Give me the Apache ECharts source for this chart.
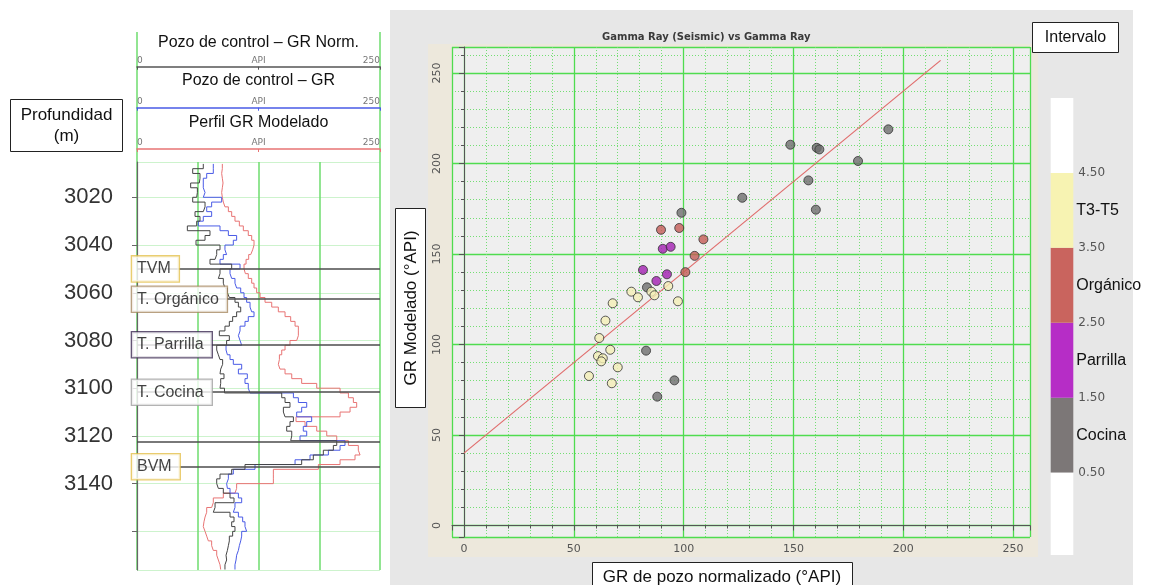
<!DOCTYPE html>
<html>
<head>
<meta charset="utf-8">
<script src="https://cdn.jsdelivr.net/npm/echarts@6/dist/echarts.min.js"></script>
<style>
  html, body { margin: 0; padding: 0; background: #ffffff; }
  #main { width: 1152px; height: 585px; }
</style>
</head>
<body>
<div id="main"></div>
<script>
// ---------------- Well log (depth in m, GR in API) ----------------
const depthTop = 3006;   // top of the first 2 m sample
const depthStep = 2;
const grNorm = [
  68.2, 57.3, 64.8, 64.1, 55.2, 62.1, 61.4, 57.3, 70, 68.2, 59.7, 64.8, 61.4, 51.8,
  75.1, 70, 60.7, 85.4, 82, 80.3, 75.1, 97.4, 85.4, 83.7, 88.8, 90.5, 93, 95,
  100.8, 104.3, 106.7, 102.5, 98.4, 95, 90.5, 84.7, 95, 92.2, 82, 83.7, 85.4, 88.1,
  86.1, 85.4, 89.5, 86.1, 85.4, 90, 148.9, 152.3, 157.4, 150.6, 152.3, 160.9, 157.4,
  154, 159.2,
  158.1, 205.5, 202, 191.7, 181.4, 169.4, 111.1, 97.4, 85.4, 82, 83.7, 88.8, 95.7,
  99.8, 80.3, 78.5, 95.7, 99.8, 97.4, 100.8, 98.4, 95, 94, 93, 91.6, 92.2, 90.5, 90.5
];
const grWell = [
  78.5, 78.5, 71.7, 68.2, 68.2, 70, 68.2, 87.1, 76.8, 71.7, 76.8, 68.2, 63.1, 85.4,
  94, 102.5, 99.1, 90.5, 92.2, 88.8, 85.4, 106, 95.7, 97.4, 100.8, 102.5, 106.7, 110.1,
  112.8, 116.3, 118, 120.4, 114.5, 111.1, 106, 104.3, 106, 107.7, 91.6, 93, 95.7, 99.1,
  107.7, 104.3, 113.5, 111.1, 114.5, 116.3, 160.9, 166, 174.6, 169.4, 164.3, 179.7,
  174.6, 171.1, 174.6,
  167.7, 214, 208.9, 196.9, 178, 162.6, 121.4, 99.1, 94, 92.2, 93, 95.7, 104.3, 107.7,
  100.8, 99.1, 104.3, 108.7, 111.1, 112.8, 107.7, 106.7, 105.3, 104.3, 102.5, 101.9,
  100.8, 100.8
];
const grModel = [
  87.8, 87.1, 87.8, 88.5, 87.8, 87.1, 87.8, 88.8, 90.5, 94, 97.4, 100.8, 105.3, 109.4,
  114.5, 118, 120.4, 119, 117, 114.9, 112.2, 110.1, 111.5, 114.5, 118, 120.4, 123.1, 126.6,
  131.7, 138.6, 145.4, 152.3, 158.1, 162.6, 166, 166, 164.3, 157.4, 152.3, 148.9, 146.5,
  145.4, 147.1, 152.3, 159.2, 169.4, 184.9, 208.9, 217.5, 222.6, 226, 219.2, 208.9,
  163.6, 172.9, 184.9, 195.2,
  205.5, 217.5, 227.7, 229.5, 224.3, 208.9, 186.6, 140.3, 140.3, 140.3, 102.5, 100.8,
  88.8, 78.5, 76.8, 71.7, 70, 68.9, 68.2, 70, 71.7, 73.4, 76.8, 78.5, 82, 83.7, 85.4, 86.1
];
const depthMin = 3005.2;
const depthMax = 3176.2;
const topNames  = ['TVM', 'T. Orgánico', 'T. Parrilla', 'T. Cocina', '', 'BVM'];
const topDepths = [3050, 3062.7, 3081.8, 3101.7, 3122.6, 3132.9];

// ---------------- Cross-plot (normalised well GR vs modelled GR) ----------------
const cocinaX   = [99, 83.3, 82.9, 95.8, 88, 148.6, 160.6, 161.8, 193.2, 179.4, 156.8, 126.7, 160.2];
const cocinaY   = [172.8, 131.6, 96.6, 80.2, 71.2, 210.4, 208.7, 207.8, 218.9, 201.4, 190.7, 181.1, 174.5];
const parrillaX = [90.5, 94.1, 81.5, 92.4, 87.6];
const parrillaY = [152.9, 154, 141.2, 138.8, 135.1];
const organicoX = [89.7, 98, 109, 105, 100.8];
const organicoY = [163.4, 164.4, 158.1, 149, 140];
const t3t5X = [93, 76.2, 85.3, 79.2, 86.7, 97.4, 67.7, 64.4, 61.6, 66.6, 61, 63.2, 62.5, 70, 56.9, 67.3];
const t3t5Y = [132.3, 129.2, 129.2, 126.1, 127.2, 123.9, 122.8, 113.2, 103.6, 97.1, 93.6, 92.4, 90.7, 87.4, 82.6, 78.6];
const fitX = [0, 217];
const fitY = [40, 257];

// ---------------- Interval colour scale ----------------
const intervalNames = ['Cocina', 'Parrilla', 'Orgánico', 'T3-T5'];   // codes 1..4
const intervalCodes = [1, 2, 3, 4];
const bandEdges = [-0.6, 0.5, 1.5, 2.5, 3.5, 4.5, 5.5];
const bandTicks = [0.5, 1.5, 2.5, 3.5, 4.5];

// ---------------- styles ----------------
const UI_FONT = '"Liberation Sans", Arial, sans-serif';
const PLOT_FONT = '"DejaVu Sans", sans-serif';
const bandColors = ['#ffffff', '#7c7777', '#b62dc6', '#c9645e', '#f7f3b2', '#ffffff'];
const pointColors = ['#6e6e6e', '#a21fb2', '#c45b56', '#f4efb6'];
const topBoxColors = ['#e3c24e', '#a88a62', '#3c2a52', '#a0a0a0', '#a0a0a0', '#e3bf4a'];
const majorGreen = '#4fdc4f';
const minorGreen = '#74de74';

function stepCurve(values) {
  const pts = [];
  values.forEach((v, i) => {
    const d0 = depthTop + i * depthStep;
    pts.push([v, d0], [v, d0 + depthStep]);
  });
  return pts;
}
function zip(xs, ys) { return xs.map((x, i) => [x, ys[i]]); }

function headerAxis(color, offset) {
  return {
    gridIndex: 0, type: 'value', position: 'bottom', offset,
    min: 0, max: 250, interval: 125,
    axisLine: { show: true, lineStyle: { color, width: 1.5 } },
    axisTick: { show: true, length: 3, lineStyle: { color } },
    axisLabel: {
      show: true, inside: true, margin: 2, fontSize: 9, color: '#777', fontFamily: PLOT_FONT,
      alignMinLabel: 'left', alignMaxLabel: 'right',
      formatter: v => (v === 125 ? 'API' : String(v))
    },
    splitLine: { show: false }
  };
}

const chart = echarts.init(document.getElementById('main'), null, { renderer: 'canvas' });

const scatterSets = [
  [cocinaX, cocinaY], [parrillaX, parrillaY], [organicoX, organicoY], [t3t5X, t3t5Y]
];

const option = {
  animation: false,
  backgroundColor: '#ffffff',
  grid: [
    { left: 137, top: 32, width: 243, height: 130 },                  // log header
    { left: 137, top: 162, width: 243, height: 408 },                 // log track
    { left: 452, top: 47, width: 578, height: 490, show: true,
      backgroundColor: '#efefef', borderWidth: 0 },                   // cross-plot
    { left: 1050.7, top: 98, width: 22.6, height: 457 }               // colour scale
  ],
  xAxis: [
    { gridIndex: 0, type: 'value', position: 'top', min: 0, max: 250, interval: 250,
      axisLine: { show: false }, axisTick: { show: false }, axisLabel: { show: false },
      splitLine: { show: true, lineStyle: { color: '#6edc6e', width: 1.5 } } },
    headerAxis('#555555', -95.3),
    headerAxis('#4a5be6', -54.3),
    headerAxis('#e87474', -13),
    { gridIndex: 1, type: 'value', min: 0, max: 250, interval: 62.5,
      axisLine: { show: false }, axisTick: { show: false }, axisLabel: { show: false },
      splitLine: { show: true, lineStyle: { color: '#6edc6e', width: 1.5 } } },
    { gridIndex: 2, type: 'value', min: -5.46, max: 257.7,
      axisLine: { show: true, lineStyle: { color: '#555', width: 1 } },
      axisTick: { show: true, length: 5, lineStyle: { color: '#555' } },
      minorTick: { show: true, splitNumber: 5, length: 3, lineStyle: { color: '#555' } },
      axisLabel: { fontSize: 11, color: '#555', fontFamily: PLOT_FONT, margin: 7,
                   showMinLabel: false, showMaxLabel: false },
      splitLine: { show: true, lineStyle: { color: majorGreen, width: 1.3 } },
      minorSplitLine: { show: true, lineStyle: { color: minorGreen, width: 1, type: [1, 2] } } },
    { gridIndex: 3, type: 'value', min: 0, max: 1, show: false }
  ],
  yAxis: [
    { gridIndex: 0, type: 'value', min: 0, max: 1, show: false },
    { gridIndex: 1, type: 'value', inverse: true, min: depthMin, max: depthMax, splitNumber: 8,
      position: 'left', offset: 10,
      axisLine: { show: true, lineStyle: { color: '#666', width: 1.2 } },
      axisTick: { show: true, length: 5, lineStyle: { color: '#666' } },
      axisLabel: { fontSize: 22, color: '#333', fontFamily: UI_FONT, margin: 14,
                   showMinLabel: false, showMaxLabel: false,
                   formatter: v => (v <= 3140 ? String(v) : '') },
      splitLine: { show: true, lineStyle: { color: '#cdf3cd', width: 1 } } },
    { gridIndex: 2, type: 'value', min: -6.35, max: 264.4,
      axisLine: { show: true, lineStyle: { color: '#555', width: 1 } },
      axisTick: { show: true, length: 5, lineStyle: { color: '#555' } },
      minorTick: { show: true, splitNumber: 5, length: 3, lineStyle: { color: '#555' } },
      axisLabel: { fontSize: 11, color: '#555', fontFamily: PLOT_FONT, margin: 9, rotate: 90,
                   showMinLabel: false, showMaxLabel: false },
      splitLine: { show: true, lineStyle: { color: majorGreen, width: 1.3 } },
      minorSplitLine: { show: true, lineStyle: { color: minorGreen, width: 1, type: [1, 2] } } },
    { gridIndex: 3, type: 'value', position: 'right', min: bandEdges[0], max: bandEdges[bandEdges.length - 1],
      axisLine: { show: false }, axisTick: { show: false }, splitLine: { show: false },
      axisLabel: { customValues: bandTicks, formatter: v => v.toFixed(2), margin: 5,
                   fontSize: 12, color: '#555', fontFamily: PLOT_FONT } },
    { gridIndex: 3, type: 'value', position: 'right', min: bandEdges[0], max: bandEdges[bandEdges.length - 1],
      axisLine: { show: false }, axisTick: { show: false }, splitLine: { show: false },
      axisLabel: { customValues: intervalCodes, formatter: v => intervalNames[intervalCodes.indexOf(v)] || '',
                   margin: 3, fontSize: 16, color: '#111', fontFamily: UI_FONT } }
  ],
  title: {
    text: 'Gamma Ray (Seismic) vs Gamma Ray',
    left: 597, top: 27,
    textStyle: { fontSize: 10, fontWeight: 'bold', color: '#3a3a3a', fontFamily: PLOT_FONT }
  },
  series: [
    // log curves
    { type: 'line', name: 'Perfil GR Modelado', xAxisIndex: 4, yAxisIndex: 1, data: stepCurve(grModel),
      showSymbol: false, symbol: 'none', lineStyle: { color: '#e87474', width: 1 }, z: 3 },
    { type: 'line', name: 'Pozo de control – GR', xAxisIndex: 4, yAxisIndex: 1, data: stepCurve(grWell),
      showSymbol: false, symbol: 'none', lineStyle: { color: '#4a5be6', width: 1 }, z: 3 },
    { type: 'line', name: 'Pozo de control – GR Norm.', xAxisIndex: 4, yAxisIndex: 1, data: stepCurve(grNorm),
      showSymbol: false, symbol: 'none', lineStyle: { color: '#444444', width: 1 }, z: 3 },
    // formation tops with their labels
    { type: 'scatter', xAxisIndex: 4, yAxisIndex: 1, symbolSize: 0, z: 6, silent: true,
      data: topDepths.map((d, i) => ({
        value: [0, d], name: topNames[i],
        label: { show: topNames[i] !== '', borderColor: topBoxColors[i] }
      })),
      label: {
        position: 'right', distance: 0, offset: [-5, 0], formatter: p => p.name,
        fontSize: 16, color: '#111', fontFamily: UI_FONT,
        backgroundColor: '#ffffff', borderWidth: 1.3, padding: [5, 8, 4, 5]
      },
      markLine: {
        silent: true, symbol: ['none', 'none'], label: { show: false },
        lineStyle: { color: '#4d4d4d', width: 1.5, type: 'solid' },
        data: topDepths.map(d => ({ yAxis: d }))
      } },
    // regression line of the cross-plot
    { type: 'line', xAxisIndex: 5, yAxisIndex: 2, data: zip(fitX, fitY), symbol: 'none',
      lineStyle: { color: '#e06c6c', width: 1.2 }, z: 3 },
    // cross-plot points coloured by interval
    ...scatterSets.map((s, i) => ({
      type: 'scatter', name: intervalNames[i], xAxisIndex: 5, yAxisIndex: 2,
      data: zip(s[0], s[1]), symbolSize: 9, z: 4,
      itemStyle: { color: pointColors[i], borderColor: '#333', borderWidth: 1 }
    })),
    // colour scale bands
    { type: 'custom', xAxisIndex: 6, yAxisIndex: 3, silent: true,
      data: bandColors.map((c, i) => [bandEdges[i], bandEdges[i + 1], i]),
      renderItem: (params, api) => {
        const top = api.coord([0, api.value(1)]);
        const bottom = api.coord([1, api.value(0)]);
        return { type: 'rect',
          shape: { x: top[0], y: top[1], width: bottom[0] - top[0], height: bottom[1] - top[1] },
          style: { fill: bandColors[api.value(2)] } };
      } }
  ],
  graphic: [
    // panels
    { type: 'rect', z: -20, shape: { x: 390, y: 10, width: 743, height: 575 }, style: { fill: '#e7e7e7' } },
    { type: 'rect', z: -19, shape: { x: 428, y: 44, width: 610, height: 513 }, style: { fill: '#ede8dc' } },
    // log header titles
    { type: 'text', z: 50, x: 258.5, y: 43, style: { text: 'Pozo de control – GR Norm.', fontSize: 16,
      fontFamily: UI_FONT, fill: '#111', align: 'center', verticalAlign: 'middle' } },
    { type: 'text', z: 50, x: 258.5, y: 81, style: { text: 'Pozo de control – GR', fontSize: 16,
      fontFamily: UI_FONT, fill: '#111', align: 'center', verticalAlign: 'middle' } },
    { type: 'text', z: 50, x: 258.5, y: 123, style: { text: 'Perfil GR Modelado', fontSize: 16,
      fontFamily: UI_FONT, fill: '#111', align: 'center', verticalAlign: 'middle' } },
    // depth title box
    { type: 'rect', z: 50, shape: { x: 10.5, y: 99.5, width: 112, height: 52 },
      style: { fill: '#fff', stroke: '#222', lineWidth: 1 } },
    { type: 'text', z: 51, x: 66.5, y: 125.5, style: { text: 'Profundidad\n(m)', fontSize: 17, lineHeight: 21,
      fontFamily: UI_FONT, fill: '#111', align: 'center', verticalAlign: 'middle' } },
    // interval scale box
    { type: 'rect', z: 50, shape: { x: 1032.5, y: 22.5, width: 86, height: 30 },
      style: { fill: '#fff', stroke: '#222', lineWidth: 1 } },
    { type: 'text', z: 51, x: 1075.5, y: 38, style: { text: 'Intervalo', fontSize: 16,
      fontFamily: UI_FONT, fill: '#111', align: 'center', verticalAlign: 'middle' } },
    // axis title boxes
    { type: 'rect', z: 50, shape: { x: 395.5, y: 208.5, width: 30, height: 199 },
      style: { fill: '#fff', stroke: '#222', lineWidth: 1 } },
    { type: 'text', z: 51, x: 411, y: 308, rotation: Math.PI / 2,
      style: { text: 'GR Modelado (°API)', fontSize: 17, fontFamily: UI_FONT, fill: '#111',
               align: 'center', verticalAlign: 'middle' } },
    { type: 'rect', z: 50, shape: { x: 592.5, y: 562.5, width: 260, height: 30 },
      style: { fill: '#fff', stroke: '#222', lineWidth: 1 } },
    { type: 'text', z: 51, x: 722, y: 577, style: { text: 'GR de pozo normalizado (°API)', fontSize: 17,
      fontFamily: UI_FONT, fill: '#111', align: 'center', verticalAlign: 'middle' } }
  ]
};

chart.setOption(option);
</script>
</body>
</html>
